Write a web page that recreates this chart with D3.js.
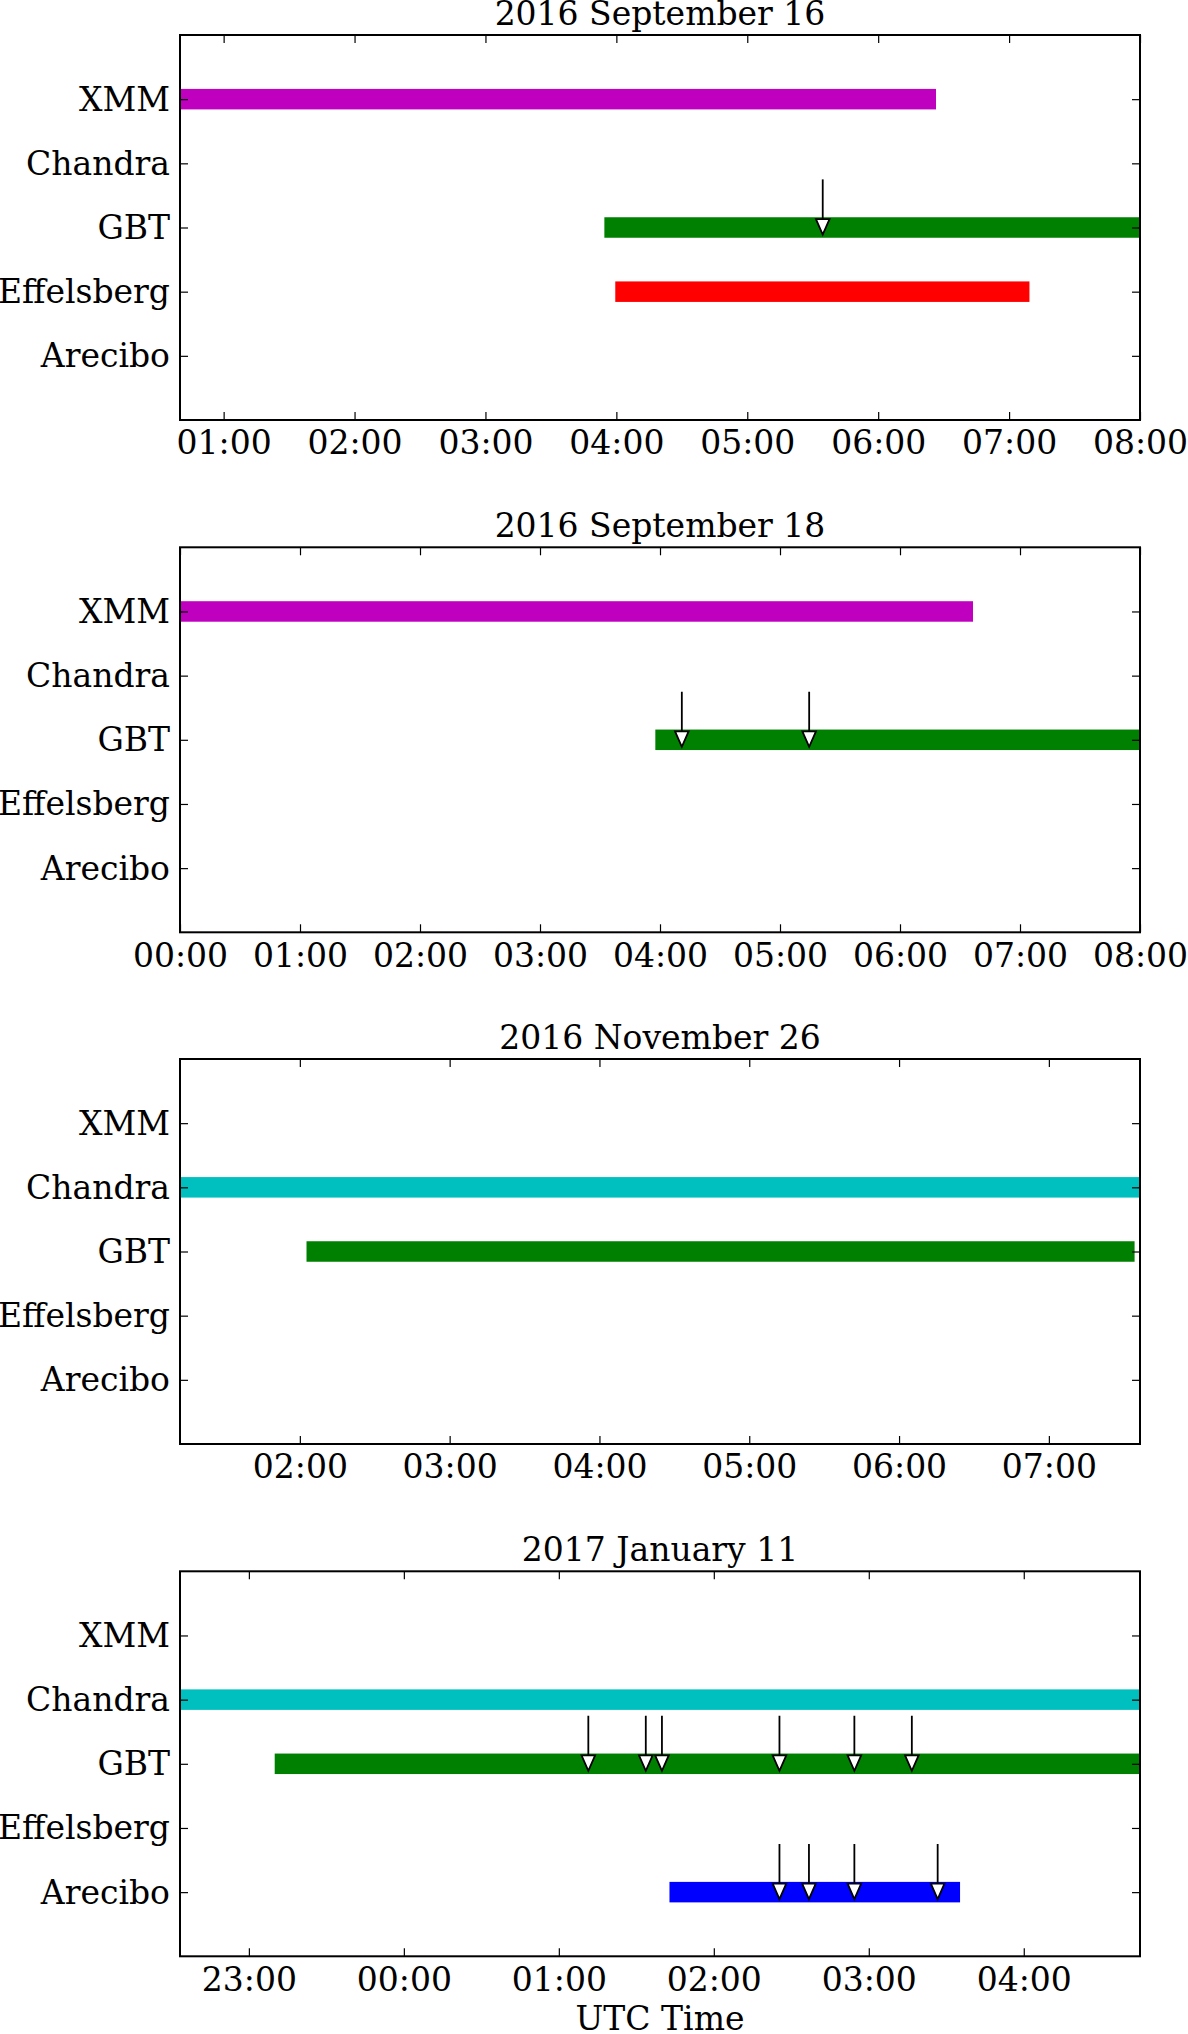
<!DOCTYPE html>
<html>
<head>
<meta charset="utf-8">
<script src="https://cdn.jsdelivr.net/npm/d3@7"></script>
<style>
  html, body { margin: 0; padding: 0; background: #fff; }
  svg { display: block; }
  text { font-family: "DejaVu Serif", serif; fill: #000; }
</style>
</head>
<body>
<script>
// ---------------- data ----------------
const telescopes = ["XMM", "Chandra", "GBT", "Effelsberg", "Arecibo"];
const telescopeRows = [5, 4, 3, 2, 1];
const telescopeColors = ["#bf00bf", "#00bfbf", "#008000", "#ff0000", "#0000ff"];

const panelTitles = ["2016 September 16", "2016 September 18", "2016 November 26", "2017 January 11"];
const panelDomains = [
  ["2016-09-16T00:40:00Z", "2016-09-16T08:00:00Z"],
  ["2016-09-18T00:00:00Z", "2016-09-18T08:00:00Z"],
  ["2016-11-26T01:12:00Z", "2016-11-26T07:36:30Z"],
  ["2017-01-10T22:33:20Z", "2017-01-11T04:45:00Z"]
];

// observing windows: [telescope, start, end]
const obsSep16 = [
  ["XMM", "2016-09-16T00:30:00Z", "2016-09-16T06:26:30Z"],
  ["GBT", "2016-09-16T03:54:30Z", "2016-09-16T08:10:00Z"],
  ["Effelsberg", "2016-09-16T03:59:30Z", "2016-09-16T07:09:20Z"]
];
const obsSep18 = [
  ["XMM", "2016-09-17T23:50:00Z", "2016-09-18T06:36:30Z"],
  ["GBT", "2016-09-18T03:57:40Z", "2016-09-18T08:10:00Z"]
];
const obsNov26 = [
  ["Chandra", "2016-11-26T01:00:00Z", "2016-11-26T07:45:00Z"],
  ["GBT", "2016-11-26T02:02:40Z", "2016-11-26T07:34:20Z"]
];
const obsJan11 = [
  ["Chandra", "2017-01-10T22:20:00Z", "2017-01-11T05:00:00Z"],
  ["GBT", "2017-01-10T23:10:00Z", "2017-01-11T05:00:00Z"],
  ["Arecibo", "2017-01-11T01:42:50Z", "2017-01-11T03:35:20Z"]
];

// detected bursts: [telescope, time]
const burstsSep16 = [["GBT", "2016-09-16T05:34:35Z"]];
const burstsSep18 = [["GBT", "2016-09-18T04:10:55Z"], ["GBT", "2016-09-18T05:14:35Z"]];
const burstsNov26 = [];
const burstsJan11 = [
  ["GBT", "2017-01-11T01:11:25Z"], ["GBT", "2017-01-11T01:33:40Z"], ["GBT", "2017-01-11T01:39:55Z"],
  ["GBT", "2017-01-11T02:25:25Z"], ["GBT", "2017-01-11T02:54:25Z"], ["GBT", "2017-01-11T03:16:40Z"],
  ["Arecibo", "2017-01-11T02:25:25Z"], ["Arecibo", "2017-01-11T02:36:50Z"],
  ["Arecibo", "2017-01-11T02:54:25Z"], ["Arecibo", "2017-01-11T03:26:40Z"]
];

const panelObs = [obsSep16, obsSep18, obsNov26, obsJan11];
const panelBursts = [burstsSep16, burstsSep18, burstsNov26, burstsJan11];
const xAxisLabel = "UTC Time";

// ---------------- layout ----------------
const W = 1188, H = 2034;
const left = 180, right = 1140;
const panelTops = [35, 547.3, 1059, 1571.3];
const panelH = 385;
const fontSize = 33;
const barH = 20.5;

const svg = d3.select("body").append("svg").attr("width", W).attr("height", H);
const rowOf = name => telescopeRows[telescopes.indexOf(name)];
const colorOf = name => telescopeColors[telescopes.indexOf(name)];
const parse = s => new Date(s);

panelTitles.forEach((title, i) => {
  const top = panelTops[i], bottom = top + panelH;
  const x = d3.scaleUtc().domain(panelDomains[i].map(parse)).range([left, right]);
  const y = d3.scaleLinear().domain([0, 6]).range([bottom, top]);
  const g = svg.append("g");

  const clipId = "clip" + i;
  g.append("clipPath").attr("id", clipId).append("rect")
    .attr("x", left).attr("y", top).attr("width", right - left).attr("height", panelH);

  const plot = g.append("g").attr("clip-path", `url(#${clipId})`);
  plot.selectAll("rect.bar").data(panelObs[i]).enter().append("rect")
    .attr("class", "bar")
    .attr("x", d => x(parse(d[1])))
    .attr("width", d => x(parse(d[2])) - x(parse(d[1])))
    .attr("y", d => y(rowOf(d[0])) - barH / 2)
    .attr("height", barH)
    .attr("fill", d => colorOf(d[0]));

  // arrows
  const arr = plot.selectAll("g.arrow").data(panelBursts[i]).enter().append("g").attr("class", "arrow");
  arr.append("line")
    .attr("x1", d => x(parse(d[1]))).attr("x2", d => x(parse(d[1])))
    .attr("y1", d => y(rowOf(d[0]) + 0.75))
    .attr("y2", d => y(rowOf(d[0]) - 0.11) - 15)
    .attr("stroke", "#000").attr("stroke-width", 1.8);
  arr.append("path")
    .attr("d", d => {
      const cx = x(parse(d[1])), ty = y(rowOf(d[0]) - 0.11);
      return `M${cx - 6.8},${ty - 15.5}L${cx + 6.8},${ty - 15.5}L${cx},${ty}Z`;
    })
    .attr("fill", "#fff").attr("stroke", "#000").attr("stroke-width", 1.8)
    .attr("stroke-linejoin", "miter");

  // axes
  const ticks = d3.utcHour.every(1);
  const fmt = d3.utcFormat("%H:%M");
  const axB = g.append("g").attr("transform", `translate(0,${bottom})`)
    .call(d3.axisBottom(x).ticks(ticks).tickFormat(fmt).tickSizeInner(-8).tickSizeOuter(0).tickPadding(11));
  const axT = g.append("g").attr("transform", `translate(0,${top})`)
    .call(d3.axisTop(x).ticks(ticks).tickFormat("").tickSizeInner(-8).tickSizeOuter(0));
  const axL = g.append("g").attr("transform", `translate(${left},0)`)
    .call(d3.axisLeft(y).tickValues(telescopeRows).tickFormat(v => telescopes[telescopeRows.indexOf(v)])
      .tickSizeInner(-8).tickSizeOuter(0).tickPadding(10));
  const axR = g.append("g").attr("transform", `translate(${right},0)`)
    .call(d3.axisRight(y).tickValues(telescopeRows).tickFormat("").tickSizeInner(-8).tickSizeOuter(0));
  [axB, axT, axL, axR].forEach(a => {
    a.select(".domain").remove();
    a.selectAll(".tick line").attr("stroke", "#000").attr("stroke-width", 1.2);
    a.selectAll("text").attr("font-size", fontSize).attr("font-family", "DejaVu Serif");
  });
  axL.selectAll("text").attr("dy", "0.33em");

  g.append("rect").attr("x", left).attr("y", top).attr("width", right - left).attr("height", panelH)
    .attr("fill", "none").attr("stroke", "#000").attr("stroke-width", 2);

  g.append("text").attr("x", (left + right) / 2).attr("y", top - 10)
    .attr("text-anchor", "middle").attr("font-size", fontSize).text(title);

  if (i === panelTitles.length - 1) {
    g.append("text").attr("x", (left + right) / 2).attr("y", bottom + 74)
      .attr("text-anchor", "middle").attr("font-size", fontSize).text(xAxisLabel);
  }
});
</script>
</body>
</html>
